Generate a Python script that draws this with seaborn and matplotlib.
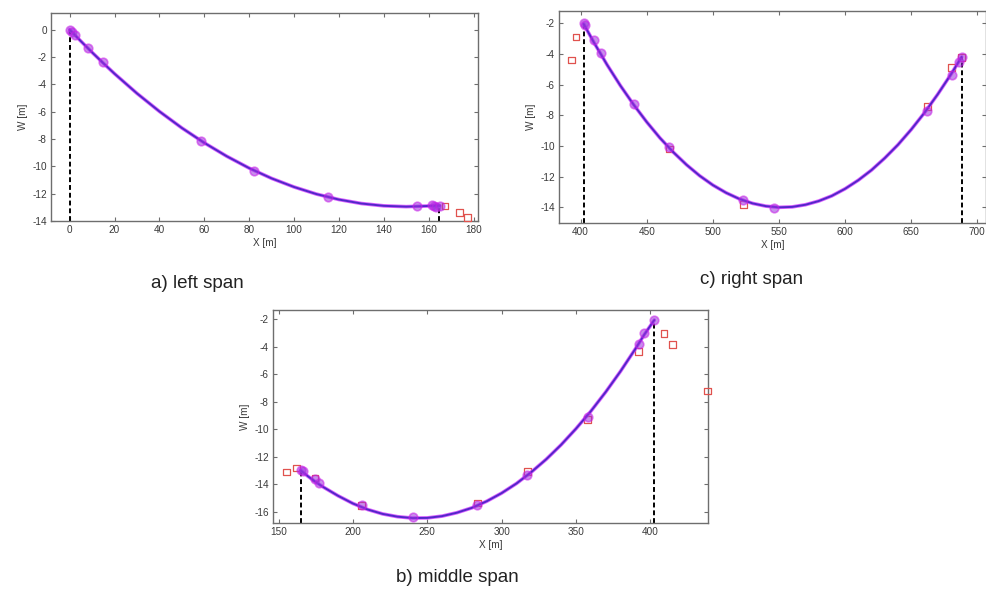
import matplotlib
matplotlib.use("Agg")
import matplotlib.pyplot as plt
import seaborn as sns
import pandas as pd

# ---- left span -------------------------------------------------------
left_curve_x = [0, 5, 10, 15, 20, 30, 40, 50, 60, 70, 80, 90, 100, 110,
                120, 130, 140, 150, 160, 165]
left_curve_w = [0.0, -0.84, -1.66, -2.45, -3.22, -4.66, -5.98, -7.19, -8.28,
                -9.26, -10.13, -10.88, -11.51, -12.03, -12.43, -12.72,
                -12.89, -12.95, -12.90, -12.88]
left_pts_x = [0, 0.9, 2.5, 8, 14.7, 58.5, 82.2, 115.3, 155, 161.5, 162.5, 163.5, 165]
left_pts_w = [0.0, -0.2, -0.37, -1.37, -2.39, -8.17, -10.35, -12.27, -12.93,
              -12.85, -12.9, -12.95, -12.9]
left_adj_x = [167.3, 173.6, 177.3]
left_adj_w = [-12.9, -13.4, -13.75]
left_supports = [(0, 0.0), (164.8, -12.88)]

# ---- middle span -----------------------------------------------------
mid_curve_x = [164.9, 170, 175, 180, 190, 200, 210, 220, 230, 240, 250, 260,
               270, 280, 290, 300, 310, 320, 330, 340, 350, 360, 370, 380,
               390, 396, 402.7]
mid_curve_w = [-12.98, -13.42, -13.82, -14.18, -14.82, -15.38, -15.82, -16.14,
               -16.34, -16.44, -16.43, -16.30, -16.05, -15.70, -15.22, -14.63,
               -13.93, -13.10, -12.17, -11.12, -9.95, -8.68, -7.28, -5.77,
               -4.14, -3.10, -2.05]
mid_pts_x = [164.9, 166.7, 174.5, 177.2, 206, 240.7, 283.7, 317.3, 358,
             392.2, 396, 402.7]
mid_pts_w = [-12.98, -13.05, -13.58, -13.87, -15.5, -16.39, -15.49, -13.29,
             -9.06, -3.79, -3.02, -2.05]
mid_adj_x = [155.5, 162.2, 174.5, 206, 283.7, 317.3, 358, 392.2, 409.2,
             414.8, 438.5]
mid_adj_w = [-13.1, -12.8, -13.53, -15.5, -15.35, -13.05, -9.3, -4.35,
             -3.02, -3.8, -7.2]
mid_supports = [(164.9, -12.98), (402.7, -2.05)]

# ---- right span ------------------------------------------------------
right_curve_x = [402.3, 410, 420, 430, 440, 450, 460, 470, 480, 490, 500, 510,
                 520, 530, 540, 550, 560, 570, 580, 590, 600, 610, 620, 630,
                 640, 650, 660, 670, 680, 688.2]
right_curve_w = [-2.05, -3.25, -4.71, -6.06, -7.30, -8.44, -9.48, -10.40,
                 -11.22, -11.94, -12.55, -13.05, -13.45, -13.74, -13.92,
                 -14.00, -13.97, -13.83, -13.59, -13.25, -12.79, -12.23,
                 -11.57, -10.79, -9.92, -8.93, -7.84, -6.64, -5.34, -4.19]
right_pts_x = [402.3, 403.3, 410.1, 415.1, 440.6, 467.1, 522.9, 546.1,
               662.2, 680.6, 686.5, 688.2]
right_pts_w = [-2.0, -2.1, -3.1, -3.95, -7.24, -10.07, -13.52, -14.05,
               -7.7, -5.37, -4.5, -4.2]
right_adj_x = [396.4, 393.0, 467.1, 522.9, 662.2, 680.6, 688.2]
right_adj_w = [-2.9, -4.4, -10.2, -13.8, -7.45, -4.9, -4.25]
right_supports = [(402.3, -2.05), (688.2, -4.2)]

sns.set_theme(style="white")
plt.rcParams["font.family"] = ["Liberation Sans", "DejaVu Sans"]
plt.rcParams["axes.unicode_minus"] = False

LINE_MAGENTA = "#d23cff"
LINE_BLUE = "#4420c4"
PT_EDGE = "#c81ee8"
PT_FACE = "#9a34dc"
ADJ_RED = "#e0524e"
SPINE = "#6e6e6e"
TXT = "#3a3a3a"

fig = plt.figure(figsize=(9.87, 5.94), dpi=100)


def draw_span(rect, cx, cw, px, pw, ax_x, ax_w, supports, xlim, ylim,
              xticks, yticks, caption, cap_xy):
    ax = fig.add_axes(rect)
    curve = pd.DataFrame({"X": cx, "W": cw})
    pts = pd.DataFrame({"X": px, "W": pw})
    adj = pd.DataFrame({"X": ax_x, "W": ax_w})

    # support verticals (dashed) from the lower axis bound to the cable end
    for sx, sw in supports:
        ax.plot([sx, sx], [ylim[0], sw], color="black", lw=1.4,
                ls=(0, (2.5, 1.5)), zorder=2)

    sns.scatterplot(data=adj, x="X", y="W", ax=ax, marker="s", s=24,
                    facecolor="none", edgecolor=ADJ_RED, linewidth=0.9,
                    zorder=3, clip_on=False)
    sns.lineplot(data=curve, x="X", y="W", ax=ax, color=LINE_MAGENTA,
                 lw=2.6, alpha=0.8, sort=False, zorder=4)
    sns.lineplot(data=curve, x="X", y="W", ax=ax, color=LINE_BLUE,
                 lw=1.4, alpha=0.9, sort=False, zorder=5)
    sns.scatterplot(data=pts, x="X", y="W", ax=ax, marker="o", s=38,
                    color=PT_FACE, alpha=0.55, edgecolor=PT_EDGE,
                    linewidth=1.2, zorder=6)

    ax.set_xlim(*xlim)
    ax.set_ylim(*ylim)
    ax.set_xticks(xticks)
    ax.set_yticks(yticks)
    ax.tick_params(direction="in", length=3, width=0.8, colors=SPINE,
                   labelcolor=TXT, labelsize=7.2, top=True, right=True,
                   bottom=True, left=True, pad=3)
    for sp in ax.spines.values():
        sp.set_color(SPINE)
        sp.set_linewidth(1.0)
    ax.set_xlabel("X [m]", fontsize=7.2, color=TXT, labelpad=2)
    ax.set_ylabel("W [m]", fontsize=7.2, color=TXT, labelpad=3)
    fig.text(cap_xy[0], cap_xy[1], caption, fontsize=13.5, color="#222222",
             ha="center", va="center")
    return ax


draw_span([51 / 987, 1 - 221 / 594, 427 / 987, 208 / 594],
          left_curve_x, left_curve_w, left_pts_x, left_pts_w,
          left_adj_x, left_adj_w, left_supports,
          (-8.3, 182.0), (-14.0, 1.22),
          list(range(0, 181, 20)), list(range(0, -15, -2)),
          "a) left span", (197 / 987, 1 - 283 / 594))

draw_span([559 / 987, 1 - 223 / 594, 427 / 987, 212 / 594],
          right_curve_x, right_curve_w, right_pts_x, right_pts_w,
          right_adj_x, right_adj_w, right_supports,
          (383.6, 706.6), (-15.02, -1.2),
          list(range(400, 701, 50)), list(range(-2, -15, -2)),
          "c) right span", (752 / 987, 1 - 279 / 594))

draw_span([273 / 987, 1 - 523 / 594, 435 / 987, 213 / 594],
          mid_curve_x, mid_curve_w, mid_pts_x, mid_pts_w,
          mid_adj_x, mid_adj_w, mid_supports,
          (146.3, 438.8), (-16.8, -1.32),
          list(range(150, 401, 50)), list(range(-2, -17, -2)),
          "b) middle span", (457 / 987, 1 - 578 / 594))

fig.savefig("out.png", dpi=100, facecolor="white")
